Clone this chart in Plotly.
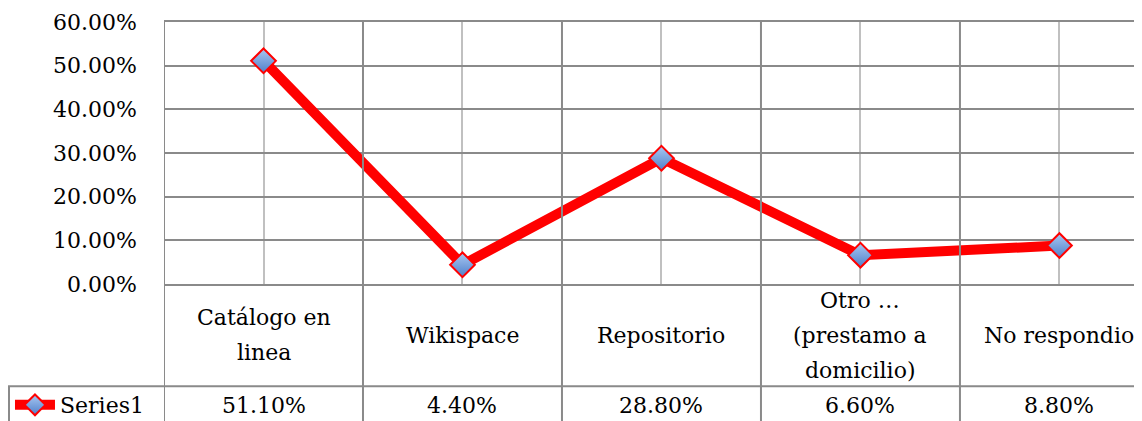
import plotly.graph_objects as go

# Data
categories = ["Catálogo en\nlinea", "Wikispace", "Repositorio",
              "Otro …\n(prestamo a\ndomicilio)", "No respondio"]
values = [51.1, 4.4, 28.8, 6.6, 8.8]
value_labels = ["51.10%", "4.40%", "28.80%", "6.60%", "8.80%"]
series_name = "Series1"
y_ticks = [0, 10, 20, 30, 40, 50, 60]

FONT = "DejaVu Serif"
FS = 22
GRID = "#8a8a8a"
LIGHT = "#c0c0c0"

x_pos = list(range(len(categories)))

fig = go.Figure()
fig.add_trace(go.Scatter(
    x=x_pos, y=values,
    mode="lines+markers",
    name=series_name,
    line={"color": "#ff0000", "width": 10},
    marker={
        "symbol": "diamond",
        "size": 19,
        "color": "#a9c8f2",
        "gradient": {"type": "vertical", "color": "#4f7fc9"},
        "line": {"color": "#ff0000", "width": 2},
    },
    cliponaxis=False,
))

# table geometry (paper coords, plot area = 0..1)
row1_bottom = -0.390
row1_mid = row1_bottom / 2
row2_mid = -0.462
table_left = -0.1582

shapes = []
# category boundary lines running through plot and table
for i in range(len(categories)):
    shapes.append({"type": "line", "xref": "x", "yref": "paper",
                   "x0": i - 0.5, "x1": i - 0.5, "y0": 1, "y1": -0.6,
                   "line": {"color": GRID, "width": 2}})
# row separator
shapes.append({"type": "line", "xref": "paper", "yref": "paper",
               "x0": table_left, "x1": 1.01, "y0": row1_bottom, "y1": row1_bottom,
               "line": {"color": GRID, "width": 2}})
# legend cell left border
shapes.append({"type": "line", "xref": "paper", "yref": "paper",
               "x0": table_left + 0.001, "x1": table_left + 0.001,
               "y0": row1_bottom, "y1": -0.6,
               "line": {"color": GRID, "width": 2}})

annotations = []
line_gap = 35
for i, label in enumerate(categories):
    lines = label.split("\n")
    n = len(lines)
    for j, ln in enumerate(lines):
        annotations.append({
            "x": x_pos[i], "xref": "x", "y": row1_mid, "yref": "paper",
            "text": ln, "showarrow": False,
            "yanchor": "middle", "xanchor": "center",
            "yshift": ((n - 1) / 2 - j) * line_gap,
            "font": {"family": FONT, "size": FS, "color": "#000000"},
        })
    annotations.append({
        "x": x_pos[i], "xref": "x", "y": row2_mid, "yref": "paper",
        "text": value_labels[i], "showarrow": False,
        "yanchor": "middle", "xanchor": "center",
        "font": {"family": FONT, "size": FS, "color": "#000000"},
    })

fig.update_layout(
    width=1142, height=421,
    paper_bgcolor="white", plot_bgcolor="white",
    margin={"l": 156, "r": 0, "t": 14, "b": 145, "autoexpand": False},
    font={"family": FONT, "size": FS, "color": "#000000"},
    xaxis={
        "range": [-0.5, 4.455],
        "tickvals": x_pos,
        "showticklabels": False,
        "showgrid": True, "gridcolor": LIGHT, "gridwidth": 2,
        "zeroline": False,
        "showline": True, "mirror": True, "linecolor": GRID, "linewidth": 2,
        "fixedrange": True,
    },
    yaxis={
        "range": [0, 60],
        "tickvals": y_ticks,
        "ticktext": [f"{v:.2f}%" for v in y_ticks],
        "showgrid": True, "gridcolor": GRID, "gridwidth": 2,
        "zeroline": False, "showline": False,
        "ticks": "", "ticklabelstandoff": 26,
        "tickfont": {"family": FONT, "size": FS},
    },
    showlegend=True,
    legend={
        "x": table_left + 0.002, "xanchor": "left",
        "y": row2_mid, "yanchor": "middle",
        "font": {"family": FONT, "size": FS},
        "bgcolor": "rgba(0,0,0,0)",
        "borderwidth": 0,
        "itemwidth": 40,
    },
    shapes=shapes,
    annotations=annotations,
)

fig.write_html("out.html")
